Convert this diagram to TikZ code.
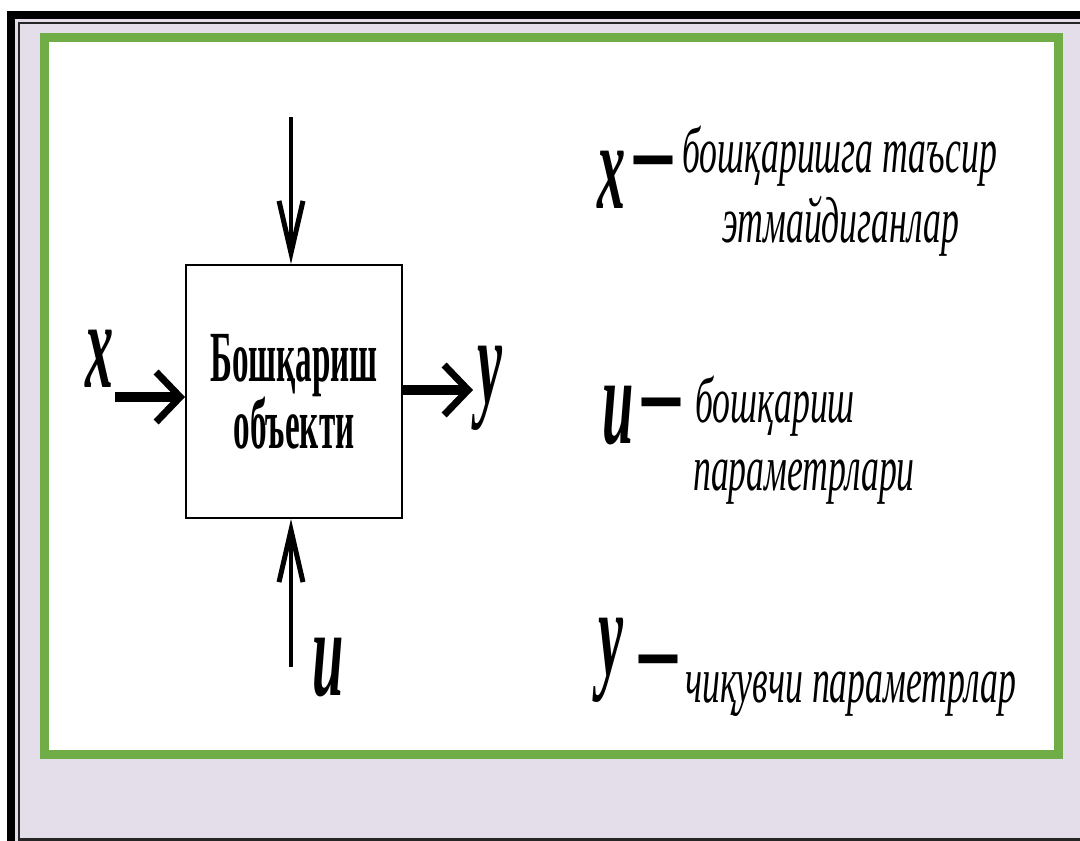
\documentclass[tikz,border=0pt]{standalone}
\usepackage{fontspec}
\setmainfont{Liberation Serif}
% narrow cuts of the same serif
\newfontfamily\boxfont[FakeStretch=0.46]{Liberation Serif}
\newfontfamily\notefont[FakeStretch=0.55]{Liberation Serif}
\newfontfamily\varfont[FakeStretch=0.45]{Liberation Serif}
\usepackage{xcolor}
\usetikzlibrary{arrows.meta}
\definecolor{color1}{RGB}{112,173,71}
\definecolor{color2}{RGB}{227,222,234}

\begin{document}
\begin{tikzpicture}[x=1pt,y=-1pt,
		var/.style={inner sep=0pt, anchor=base west, font=\varfont\bfseries\itshape\fontsize{125}{125}\selectfont},
		note/.style={inner sep=0pt, anchor=base west, font=\notefont\itshape\fontsize{65}{65}\selectfont},
		endash/.style={inner sep=0pt, font=\varfont\bfseries\fontsize{125}{125}\selectfont},
		thin arrow/.style={line width=4pt, -{Straight Barb[length=52pt, width=24pt, line width=5pt]}},
		thick arrow/.style={line width=10pt, -{Straight Barb[length=24pt, width=50pt, line width=7pt]}}]
	\useasboundingbox (0,0) rectangle (1080,841);
	
	% slide frame
	\fill[white] (0,0) rectangle (1080,841);
	\fill[color2] (15,19) rectangle (1080,841);
	\fill[black] (7,11) rectangle (1080,19);
	\fill[black] (7,11) rectangle (15,841);
	\draw[line width=2.5pt, black!85] (19,841) -- (19,23) -- (1080,23);
	\draw[line width=2.5pt, black!85] (19,839.5) -- (1080,839.5);
	\draw[line width=9pt, color1, fill=white] (44.5,37.5) rectangle (1058.5,754.5);
	
	% the block
	\node[draw, line width=2pt, minimum width=216pt, minimum height=253pt, align=center,
		font=\boxfont\bfseries\fontsize{72}{67}\selectfont] (obj) at (294,391.5) {Бошқариш\\объекти};
	
	\coordinate (top) at (291,117);
	\coordinate (bot) at (291,667);
	\coordinate (xin) at (115,397);
	\coordinate (yout) at (473,390);
	
	\draw[thin arrow] (top) -- (top |- obj.north);
	\draw[thin arrow] (bot) -- (bot |- obj.south);
	\draw[thick arrow] (xin) -- (xin -| obj.west);
	\draw[thick arrow] (yout -| obj.east) -- (yout);
	
	\node[var] (x) at (85,387) {x};
	\node[var] (u) at (312,695) {u};
	\node[var] (y) at (477,403) {y};
	
	% legend
	\node[var] (xl) at (597,208) {x};
	\node[endash] (xd) at (653,173) {\scalebox{1.35}[1]{–}};
	\node[note] (xt1) at (682,172) {бошқаришга таъсир};
	\node[note] (xt2) at (722,242) {этмайдиганлар};
	
	\node[var] (ul) at (602,443) {u};
	\node[endash] (ud) at (661,415) {\scalebox{1.35}[1]{–}};
	\node[note] (ut1) at (695,422) {бошқариш};
	\node[note] (ut2) at (693,490) {параметрлари};
	
	\node[var] (yl) at (598,675) {y};
	\node[endash] (yd) at (658,672) {\scalebox{1.35}[1]{–}};
	\node[note] (yt) at (685,702) {чиқувчи параметрлар};
\end{tikzpicture}
\end{document}
